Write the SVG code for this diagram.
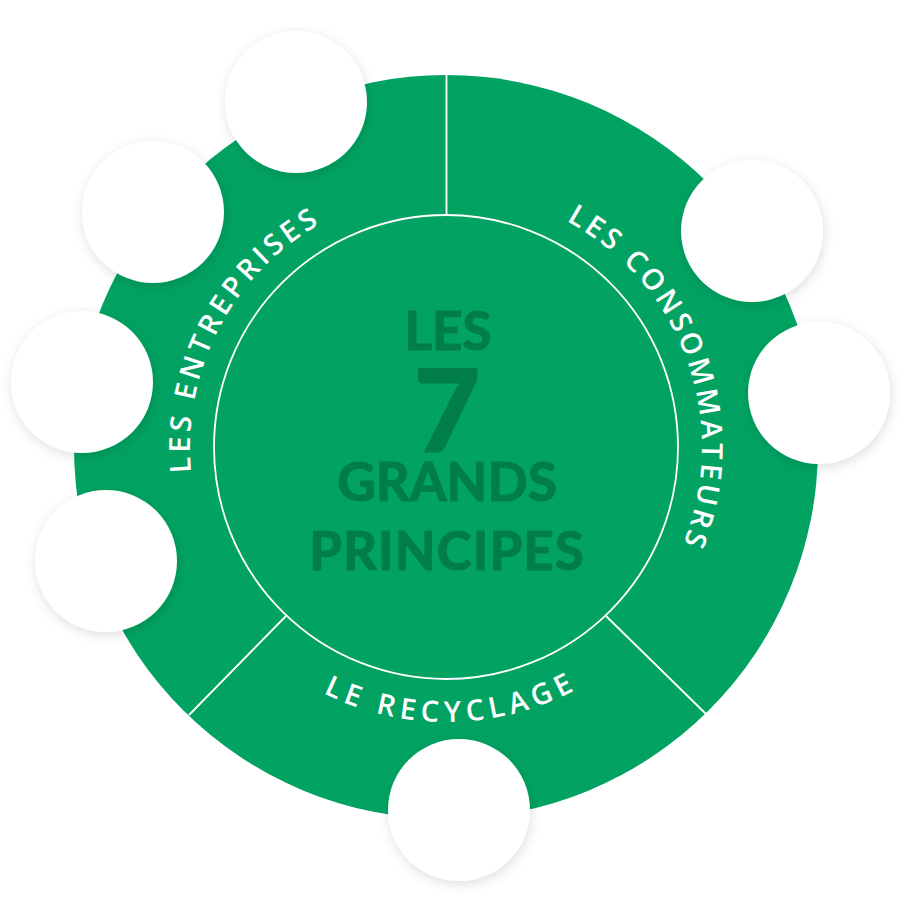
<svg xmlns="http://www.w3.org/2000/svg" width="900" height="900" viewBox="0 0 900 900">
  <defs>
    <filter id="shadow" x="-40%" y="-40%" width="180%" height="180%">
      <feDropShadow dx="1" dy="3" stdDeviation="6" flood-color="#000" flood-opacity="0.13"/>
    </filter>
    <path id="arcLeft" d="M230.3,584.9 A256,256 0 0 1 434.4,191.3"/>
    <path id="arcRight" d="M492.2,195.2 A256,256 0 0 1 640.9,612.9"/>
    <path id="arcBottom" d="M207,585 A277,277 0 0 0 685,585"/>
    <style>
      .ring { fill: #01A262; }
      .divider { stroke: #ffffff; stroke-width: 1.8; fill: none; }
      .arcLabel { font-family: "Open Sans", "Liberation Sans", sans-serif; font-weight: 600; font-size: 29px; fill: #ffffff; }
      .center { font-family: Lato, "Open Sans", "Liberation Sans", sans-serif; font-weight: 700; fill: #017E48; stroke: #017E48; stroke-width: 1.2; stroke-linejoin: round; text-anchor: middle; }
      .bubble { fill: #ffffff; filter: url(#shadow); }
    </style>
  </defs>

  <rect width="900" height="900" fill="#ffffff"/>

  <g id="wheel">
    <circle class="ring" cx="446" cy="447" r="372"/>
    <circle cx="446" cy="447" r="232" fill="none" stroke="#ffffff" stroke-width="1.8"/>
  </g>

  <g id="connectors">
    <line class="divider" x1="446.5" y1="74" x2="446.5" y2="215"/>
    <line class="divider" x1="286" y1="616" x2="189" y2="715"/>
    <line class="divider" x1="606" y1="616" x2="706" y2="714"/>
  </g>

  <g id="label-entreprises">
    <text class="arcLabel" letter-spacing="4"><textPath href="#arcLeft" startOffset="50.3%" text-anchor="middle">LES ENTREPRISES</textPath></text>
  </g>
  <g id="label-consommateurs">
    <text class="arcLabel" letter-spacing="3.5"><textPath href="#arcRight" startOffset="50%" text-anchor="middle">LES CONSOMMATEURS</textPath></text>
  </g>
  <g id="label-recyclage">
    <text class="arcLabel" letter-spacing="5.5"><textPath href="#arcBottom" startOffset="51%" text-anchor="middle">LE RECYCLAGE</textPath></text>
  </g>

  <g id="title">
    <text class="center" x="448" y="350" font-size="53">LES</text>
    <text class="center" x="447" y="452" font-size="115" style="font-weight:900">7</text>
    <text class="center" x="447" y="501" font-size="53">GRANDS</text>
    <text class="center" x="447" y="570" font-size="53" letter-spacing="1">PRINCIPES</text>
  </g>

  <g id="bubbles">
    <circle id="bubble-1" class="bubble" cx="296" cy="102" r="71"/>
    <circle id="bubble-2" class="bubble" cx="153" cy="212" r="71"/>
    <circle id="bubble-3" class="bubble" cx="82" cy="382" r="71"/>
    <circle id="bubble-4" class="bubble" cx="106" cy="561" r="71"/>
    <circle id="bubble-5" class="bubble" cx="752" cy="231" r="71"/>
    <circle id="bubble-6" class="bubble" cx="819" cy="393" r="71"/>
    <circle id="bubble-7" class="bubble" cx="459" cy="810" r="71"/>
  </g>
</svg>
